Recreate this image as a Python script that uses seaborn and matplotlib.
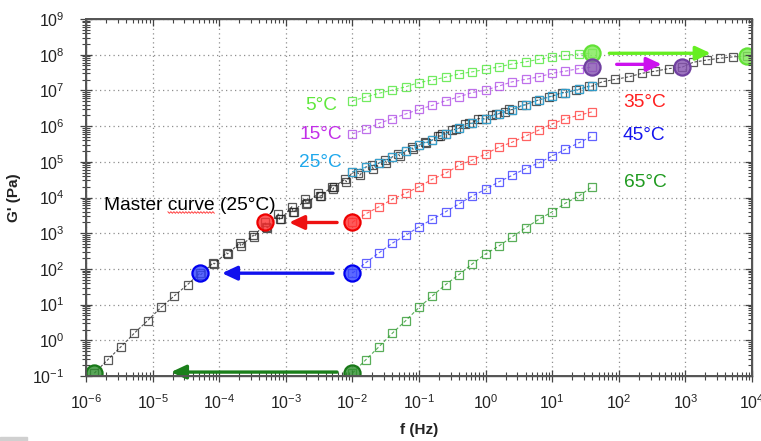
import numpy as np
import pandas as pd
import matplotlib
matplotlib.use("Agg")
import matplotlib.pyplot as plt
import matplotlib.colors as mcolors
from matplotlib.patches import Rectangle
from matplotlib.lines import Line2D
from matplotlib.transforms import IdentityTransform
from matplotlib.ticker import LogLocator, LogFormatterSciNotation, NullFormatter
import seaborn as sns

# ---------------- data ----------------
freq = [0.01, 0.0158, 0.0251, 0.0398, 0.0631, 0.1, 0.158, 0.251, 0.398, 0.631,
        1.0, 1.58, 2.51, 3.98, 6.31, 10.0, 15.8, 25.1, 39.8]

G_5C = [5.13e6, 6.46e6, 8.32e6, 1.02e7, 1.26e7, 1.66e7, 1.95e7, 2.34e7, 2.88e7, 3.31e7,
        3.89e7, 4.57e7, 5.50e7, 6.31e7, 7.41e7, 8.51e7, 9.55e7, 1.05e8, 1.10e8]
G_15C = [6.03e5, 8.13e5, 1.20e6, 1.62e6, 2.19e6, 2.95e6, 3.80e6, 5.13e6, 6.61e6, 8.71e6,
         1.02e7, 1.32e7, 1.74e7, 2.04e7, 2.40e7, 3.02e7, 3.47e7, 4.07e7, 4.47e7]
G_25C = [5.25e4, 7.08e4, 9.33e4, 1.38e5, 2.04e5, 2.95e5, 4.07e5, 6.03e5, 8.71e5, 1.20e6,
         1.58e6, 2.24e6, 2.88e6, 3.98e6, 5.37e6, 6.92e6, 8.71e6, 1.07e7, 1.32e7]
G_35C = [2.04e3, 3.47e3, 5.50e3, 8.91e3, 1.32e4, 2.00e4, 3.24e4, 4.79e4, 7.94e4, 1.12e5,
         1.66e5, 2.57e5, 3.55e5, 5.25e5, 7.76e5, 1.15e6, 1.62e6, 2.00e6, 2.51e6]
G_45C = [75.9, 148, 282, 525, 871, 1.51e3, 2.45e3, 3.98e3, 6.61e3, 1.10e4,
         1.70e4, 2.75e4, 4.17e4, 6.46e4, 9.33e4, 1.45e5, 2.24e5, 3.39e5, 5.25e5]
G_65C = [0.120, 0.282, 0.661, 1.58, 3.55, 8.32, 17.4, 36.3, 69.2, 138,
         263, 437, 794, 1.41e3, 2.45e3, 3.98e3, 6.92e3, 1.10e4, 2.00e4]

temps = ["5°C", "15°C", "25°C", "35°C", "45°C", "65°C"]
series = [G_5C, G_15C, G_25C, G_35C, G_45C, G_65C]
log_aT = [2.32, 1.35, 0.0, -1.31, -2.29, -3.875]   # horizontal shift factors (to 25 °C)
log_bT = [-0.08, 0.0, 0.0, 0.0, 0.0, 0.0]          # small vertical shift
master_first = [14, 0, 0, 0, 0, 0]                  # first point of each set kept in master curve
circle_point = [-1, -1, None, 0, 0, 0]              # highlighted point of each set

# ---------------- styles ----------------
sq_colors = ["#4fe63a", "#b04ee6", "#2fb4ec", "#ff3b3b", "#3b3bff", "#2f9a2f"]
txt_colors = ["#5fe83c", "#c22fe8", "#1ea8ec", "#ff1f1f", "#1414ee", "#1f9a1f"]
circ_fill = ["#7eea55", "#8552b0", None, "#ff3030", "#3344ff", "#2e8f2e"]
circ_edge = ["#62e236", "#7040a0", None, "#ee0000", "#0000ee", "#187818"]

# annotation arrows: (colour, log f tail, log f head, log G)
arrows = [("#66ee22", 1.858, 3.38, 8.04),
          ("#cc11ee", 1.968, 2.644, 7.73),
          ("#ee1111", -2.23, -2.95, 3.30),
          ("#1111ee", -2.291, -3.958, 1.88),
          ("#1a7f1a", -2.231, -4.724, -0.89)]
# temperature labels: (log f, log G baseline, ha)
label_pos = [(-2.23, 6.45, "right"), (-2.16, 5.64, "right"), (-2.16, 4.85, "right"),
             (2.06, 6.535, "left"), (2.06, 5.61, "left"), (2.08, 4.29, "left")]

# ---------------- theme ----------------
sns.set_theme(style="white")
plt.rcParams["font.family"] = ["Liberation Sans", "DejaVu Sans"]
plt.rcParams["mathtext.fontset"] = "custom"
plt.rcParams["mathtext.rm"] = "Liberation Sans"
plt.rcParams["mathtext.it"] = "Liberation Sans:italic"
plt.rcParams["mathtext.bf"] = "Liberation Sans:bold"
plt.rcParams["mathtext.default"] = "regular"

W, H = 761, 441
fig = plt.figure(figsize=(W / 100, H / 100), dpi=100)
fig.patch.set_facecolor("white")
L, R, T, B = 86, 752, 19, 376
ax = fig.add_axes([L / W, 1 - B / H, (R - L) / W, (B - T) / H])
ax.set_xscale("log")
ax.set_yscale("log")
ax.set_xlim(1e-6, 1e4)
ax.set_ylim(1e-1, 1e9)

# ---------------- master curve ----------------
rows = []
for i, G in enumerate(series):
    for j in range(master_first[i], len(freq)):
        rows.append({"f": freq[j] * 10 ** log_aT[i], "G": G[j] * 10 ** log_bT[i]})
master = pd.DataFrame(rows).sort_values("f")
sns.lineplot(data=master, x="f", y="G", ax=ax, estimator=None, sort=True,
             color="#555555", linewidth=0.8, linestyle=(0, (2.5, 1.5)),
             marker="s", markersize=6.4, markerfacecolor="none",
             markeredgecolor=mcolors.to_rgba("#222222", 0.75), markeredgewidth=0.9,
             zorder=3)

# ---------------- temperature series ----------------
for i, G in enumerate(series):
    c = sq_colors[i]
    sns.lineplot(x=freq, y=G, ax=ax, estimator=None, sort=False,
                 color=mcolors.to_rgba(c, 0.8), linewidth=0.8, linestyle=(0, (3, 2)),
                 marker="s", markersize=6.4, markerfacecolor="none",
                 markeredgecolor=mcolors.to_rgba(c, 0.8), markeredgewidth=0.9,
                 zorder=4)

# highlighted points (original and shifted)
for i, G in enumerate(series):
    k = circle_point[i]
    if k is None:
        continue
    xs = [freq[k], freq[k] * 10 ** log_aT[i]]
    ys = [G[k], G[k] * 10 ** log_bT[i]]
    sns.scatterplot(x=xs, y=ys, ax=ax, s=135, color=mcolors.to_rgba(circ_fill[i], 0.8),
                    edgecolor=circ_edge[i], linewidth=1.6, zorder=6, legend=False)

# arrows
for c, xt, xh, yg in arrows:
    ax.annotate("", xy=(10 ** xh, 10 ** yg), xytext=(10 ** xt, 10 ** yg),
                arrowprops=dict(arrowstyle="-|>,head_length=0.9,head_width=0.42",
                                color=c, lw=2.4, shrinkA=0, shrinkB=0,
                                mutation_scale=10), zorder=7)

# labels
for i, (lx, ly, ha) in enumerate(label_pos):
    ax.text(10 ** lx, 10 ** ly, temps[i], color=txt_colors[i], fontsize=13.8,
            ha=ha, va="baseline", zorder=8)
mtxt = ax.text(10 ** -5.73, 10 ** 3.65, "Master curve (25°C)", color="black",
               fontsize=13.8, ha="left", va="baseline", zorder=8)

# ---------------- axes styling ----------------
ax.grid(True, which="major", color="#8f8f8f", linestyle=(0, (1, 2.6)), linewidth=0.9)
ax.set_axisbelow(True)
for s in ax.spines.values():
    s.set_color("#555555")
    s.set_linewidth(1.0)
for axis in (ax.xaxis, ax.yaxis):
    axis.set_major_locator(LogLocator(base=10, numticks=20))
    axis.set_minor_locator(LogLocator(base=10, subs=np.arange(2, 10), numticks=200))
    axis.set_major_formatter(LogFormatterSciNotation())
    axis.set_minor_formatter(NullFormatter())
ax.tick_params(which="major", direction="inout", length=9, width=0.9, color="#444444",
               labelsize=11.5, labelcolor="#222222")
ax.tick_params(which="minor", direction="inout", length=5.5, width=0.8, color="#444444")
ax.tick_params(axis="y", which="major", pad=11)
ax.tick_params(axis="x", which="major", pad=8)

# inward ticks on top and right
axt = ax.twiny()
axt.set_xscale("log"); axt.set_xlim(ax.get_xlim())
axr = ax.twinx()
axr.set_yscale("log"); axr.set_ylim(ax.get_ylim())
for a, axis in ((axt, axt.xaxis), (axr, axr.yaxis)):
    axis.set_major_locator(LogLocator(base=10, numticks=20))
    axis.set_minor_locator(LogLocator(base=10, subs=np.arange(2, 10), numticks=200))
    axis.set_major_formatter(NullFormatter())
    axis.set_minor_formatter(NullFormatter())
    a.tick_params(which="major", direction="in", length=5, width=0.9, color="#444444")
    a.tick_params(which="minor", direction="in", length=3, width=0.8, color="#444444")
    for s in a.spines.values():
        s.set_color("#555555")
    a.grid(False)

ax.set_xlabel("f (Hz)", fontsize=11, fontweight="bold", color="#222222")
ax.set_ylabel("G' (Pa)", fontsize=11, fontweight="bold", color="#222222")
ax.xaxis.set_label_coords(0.5, -0.133)
ax.yaxis.set_label_coords(-0.097, 0.5)

# spell-check style squiggle under "curve"
fig.canvas.draw()
rend = fig.canvas.get_renderer()
bb = mtxt.get_window_extent(rend)
tmp = ax.text(10 ** -5.73, 10 ** 3.65, "Master ", fontsize=13.8, ha="left", va="baseline")
w1 = tmp.get_window_extent(rend).width
tmp.set_text("Master curve")
w2 = tmp.get_window_extent(rend).width
tmp.remove()
x0, x1 = bb.x0 + w1, bb.x0 + w2
_, ybase = ax.transData.transform((10 ** -5.73, 10 ** 3.65))
xs = np.arange(x0, x1, 1.5)
ys = ybase - 2.5 + np.where(np.arange(len(xs)) % 2 == 0, 0.8, -0.8)
fig.add_artist(Line2D(xs, ys, transform=IdentityTransform(), color="#ff4040", lw=0.7))

# small grey block at lower-left corner
fig.add_artist(Rectangle((0, 0), 27 / W, 4 / H, transform=fig.transFigure,
                         color="#d0d0d0", zorder=0))

fig.savefig("out.png", dpi=100, facecolor="white")
